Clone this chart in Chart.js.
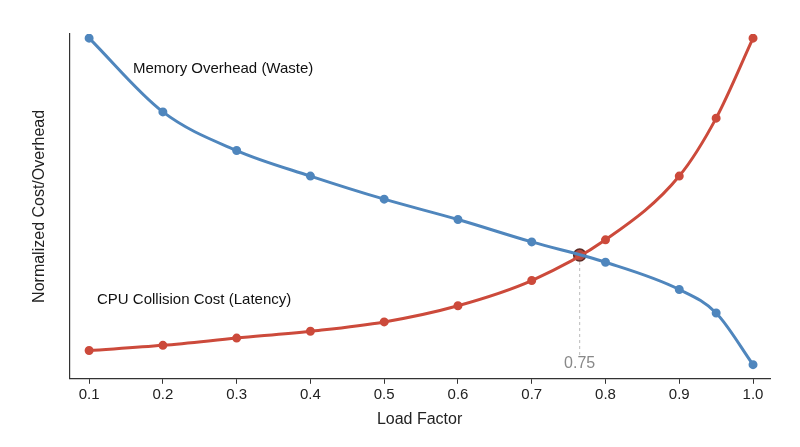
<!DOCTYPE html>
<html>
<head>
<meta charset="utf-8">
<script src="https://cdn.jsdelivr.net/npm/chart.js@4"></script>
<style>
  html, body { margin: 0; padding: 0; background: #fff; }
  #wrap { width: 800px; height: 447px; }
</style>
</head>
<body>
<div id="wrap"><canvas id="chart"></canvas></div>
<script>
const loadFactors = [0.1, 0.2, 0.3, 0.4, 0.5, 0.6, 0.7, 0.8, 0.9, 0.95, 1.0];
const memoryOverhead = [0.988, 0.774, 0.662, 0.588, 0.521, 0.462, 0.397, 0.338, 0.259, 0.191, 0.041];
const collisionCost = [0.082, 0.097, 0.118, 0.138, 0.165, 0.212, 0.285, 0.403, 0.588, 0.756, 0.988];
const crossing = { x: 0.765, y: 0.359 };
const xTicks = [0.1, 0.2, 0.3, 0.4, 0.5, 0.6, 0.7, 0.8, 0.9, 1.0];

const BLUE = '#4f86bd';
const RED = '#cc4a3b';
const FONT = '"Liberation Sans", Arial, sans-serif';

const toPoints = ys => loadFactors.map((x, i) => ({ x, y: ys[i] }));

// curve labels and the 0.75 marker
const annotations = {
    id: 'annotations',
    afterDatasetsDraw(chart) {
        const { ctx, scales: { x, y } } = chart;
        ctx.save();
        ctx.font = '15px ' + FONT;
        ctx.fillStyle = '#111';
        ctx.textBaseline = 'middle';
        ctx.fillText('Memory Overhead (Waste)', 133, 69);
        ctx.fillText('CPU Collision Cost (Latency)', 97, 300);

        const px = x.getPixelForValue(crossing.x);
        const py = y.getPixelForValue(crossing.y);
        ctx.strokeStyle = '#bbb';
        ctx.lineWidth = 1;
        ctx.setLineDash([3, 3]);
        ctx.beginPath();
        ctx.moveTo(px, py + 7);
        ctx.lineTo(px, y.getPixelForValue(0.06));
        ctx.stroke();
        ctx.setLineDash([]);
        ctx.fillStyle = '#888';
        ctx.font = '16px ' + FONT;
        ctx.textAlign = 'center';
        ctx.fillText('0.75', px, 364);
        ctx.restore();
    }
};

new Chart(document.getElementById('chart'), {
    type: 'line',
    data: {
        datasets: [
            {
                label: 'Memory Overhead (Waste)',
                data: toPoints(memoryOverhead),
                borderColor: BLUE,
                backgroundColor: BLUE,
                borderWidth: 3,
                pointRadius: 3,
                cubicInterpolationMode: 'monotone'
            },
            {
                label: 'CPU Collision Cost (Latency)',
                data: toPoints(collisionCost),
                borderColor: RED,
                backgroundColor: RED,
                borderWidth: 3,
                pointRadius: 3,
                cubicInterpolationMode: 'monotone'
            },
            {
                label: 'crossing',
                data: [crossing],
                showLine: false,
                pointRadius: 6,
                backgroundColor: '#b04a40',
                borderColor: '#5a2a25',
                borderWidth: 1.5
            }
        ]
    },
    options: {
        responsive: true,
        maintainAspectRatio: false,
        animation: false,
        layout: { padding: { top: 34, right: 30, left: 26, bottom: 14 } },
        plugins: { legend: { display: false }, tooltip: { enabled: false } },
        scales: {
            x: {
                type: 'linear',
                min: 0.073,
                max: 1.023,
                afterBuildTicks: axis => { axis.ticks = xTicks.map(v => ({ value: v })); },
                grid: { display: true, drawOnChartArea: false, drawTicks: true, tickLength: 5, color: '#333' },
                border: { color: '#333', width: 1.2 },
                ticks: { color: '#222', font: { size: 15, family: FONT }, callback: v => v.toFixed(1), padding: 2 },
                title: { display: true, text: 'Load Factor', color: '#222', font: { size: 16, family: FONT }, padding: { top: 4 } }
            },
            y: {
                min: 0,
                max: 1,
                grid: { display: false },
                border: { color: '#333', width: 1.2 },
                ticks: { display: false },
                title: { display: true, text: 'Normalized Cost/Overhead', color: '#222', font: { size: 16, family: FONT }, padding: { bottom: 12 } }
            }
        }
    },
    plugins: [annotations]
});
</script>
</body>
</html>
